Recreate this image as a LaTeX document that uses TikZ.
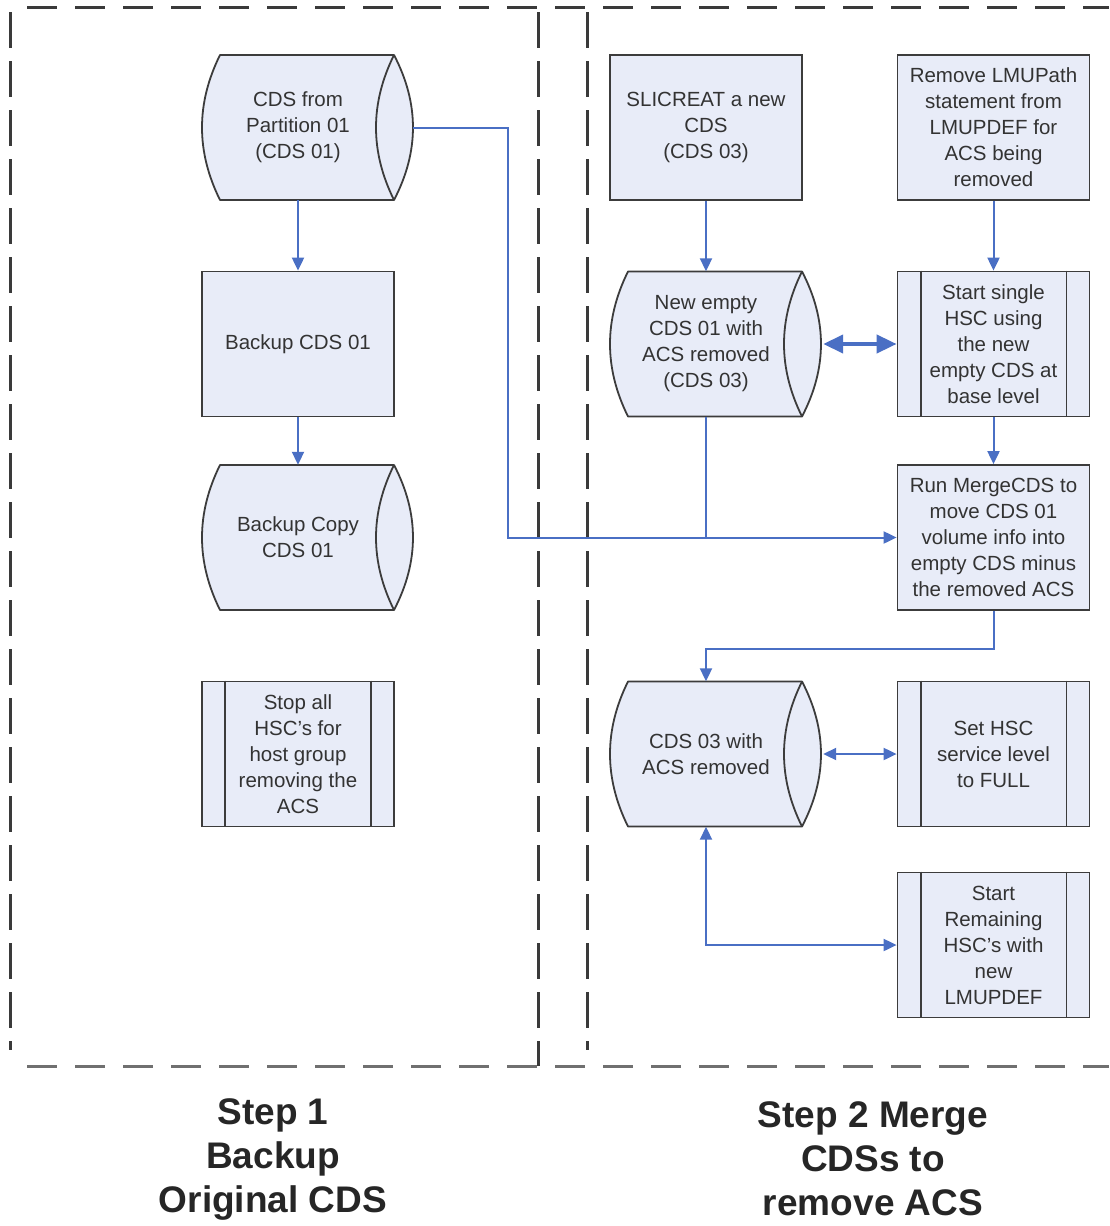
\documentclass[tikz,border=0pt]{standalone}
\usepackage{fontspec}
\setmainfont{Liberation Sans}
\usetikzlibrary{arrows.meta,calc}
\definecolor{fillc}{HTML}{E8ECF8}
\definecolor{edgec}{HTML}{3C3C3C}
\definecolor{linkc}{HTML}{4A6FC4}
\definecolor{txtc}{HTML}{333333}
\definecolor{dashdark}{HTML}{3A3A3A}
\definecolor{dashgray}{HTML}{707070}
\newcommand\mycyl[4]{%
  \path[draw=edgec,fill=fillc,line width=1.8pt,line join=round]
    (#2-78,#3-72.5) -- (#2+96,#3-72.5)
    .. controls (#2+121.3,#3-24) and (#2+121.3,#3+24) .. (#2+96,#3+72.5)
    -- (#2-78,#3+72.5)
    .. controls (#2-102,#3+24) and (#2-102,#3-24) .. cycle;
  \draw[edgec,line width=1.8pt] (#2+96,#3-72.5)
    .. controls (#2+72,#3-24) and (#2+72,#3+24) .. (#2+96,#3+72.5);
  \node[shapebox] (#1) at (#2,#3) {#4};}
\newcommand\myproc[4]{%
  \node[rectbox] (#1) at (#2,#3) {#4};
  \draw[edgec,line width=1.8pt] ([xshift=24pt]#1.north west) -- ([xshift=24pt]#1.south west);
  \draw[edgec,line width=1.8pt] ([xshift=-24pt]#1.north east) -- ([xshift=-24pt]#1.south east);}
\begin{document}
\begin{tikzpicture}[x=1pt,y=-1pt,
  shapebox/.style={minimum width=192pt,minimum height=145pt,inner sep=0pt,align=center,
    font=\fontsize{20.5}{26}\selectfont,text=txtc},
  rectbox/.style={shapebox,draw=edgec,fill=fillc,line width=1.8pt},
  conn/.style={draw=linkc,line width=2pt},
  tip/.style={-{Triangle[length=13pt,width=12pt]}},
  twotip/.style={{Triangle[length=13pt,width=12pt]}-{Triangle[length=13pt,width=12pt]}},
  bigtwotip/.style={line width=4pt,{Triangle[length=20pt,width=18pt]}-{Triangle[length=20pt,width=18pt]}},
  frame/.style={line width=3pt,dash pattern=on 30pt off 18pt},
  caption/.style={align=center,font=\fontsize{37}{44}\selectfont\bfseries,text=black!85}]
\path[fill=white] (0,0) rectangle (1109,1226);
\useasboundingbox (0,0) rectangle (1109,1226);
% frames
\draw[frame,dashdark,dash phase=-17pt] (10,7) -- (1109,7);
\draw[frame,dashgray,dash phase=-17pt] (10,1066) -- (1109,1066);
\draw[frame,dashdark,dash pattern=on 36pt off 13pt] (10,12) -- (10,1050);
\draw[frame,dashdark,dash pattern=on 36pt off 13pt] (538,12) -- (538,1066);
\draw[frame,dashdark,dash pattern=on 36pt off 13pt] (587,12) -- (587,1050);
% left column
\mycyl{cyla}{298}{127.5}{CDS from\\Partition 01\\(CDS 01)}
\node[rectbox] (backup) at (298,344) {Backup CDS 01};
\mycyl{copy}{298}{537.5}{Backup Copy\\CDS 01}
\myproc{stop}{298}{754}{Stop all\\HSC's for\\host group\\removing the\\ACS}
% right columns
\node[rectbox] (slic) at (706,127.5) {SLICREAT a new\\CDS\\(CDS 03)};
\node[rectbox] (remove) at (993.5,127.5) {Remove LMUPath\\statement from\\LMUPDEF for\\ACS being\\removed};
\mycyl{newempty}{706}{344}{New empty\\CDS 01 with\\ACS removed\\(CDS 03)}
\myproc{startsingle}{993.5}{344}{Start single\\HSC using\\the new\\empty CDS at\\base level}
\node[rectbox] (merge) at (993.5,537.5) {Run MergeCDS to\\move CDS 01\\volume info into\\empty CDS minus\\the removed ACS};
\mycyl{cdsthree}{706}{754}{CDS 03 with\\ACS removed}
\myproc{sethsc}{993.5}{754}{Set HSC\\service level\\to FULL}
\myproc{startrem}{993.5}{945}{Start\\Remaining\\HSC's with\\new\\LMUPDEF}
% connectors
\coordinate (ja) at (508,537.5);
\draw[conn,tip] (cyla.south) -- (backup.north);
\draw[conn,tip] (backup.south) -- (copy.north);
\draw[conn,tip] ([xshift=19pt]cyla.east) -- (ja |- cyla.east) -- (ja) -- (merge.west);
\draw[conn,tip] (slic.south) -- (newempty.north);
\draw[conn,tip] (remove.south) -- (startsingle.north);
\draw[conn,bigtwotip] ([xshift=21pt]newempty.east) -- (startsingle.west);
\draw[conn,tip] (startsingle.south) -- (merge.north);
\draw[conn] (newempty.south) -- (newempty.south |- merge.west);
\draw[conn,tip] (merge.south) -- ++(0,38) -| (cdsthree.north);
\draw[conn,twotip] ([xshift=21pt]cdsthree.east) -- (sethsc.west);
\draw[conn,twotip] (cdsthree.south) |- (startrem.west);
% captions
\node[caption] (capa) at (273,1159) {Step 1\\Backup\\Original CDS};
\node[caption] (capb) at (873,1159) {Step 2 Merge\\CDSs to\\remove ACS};
\end{tikzpicture}
\end{document}
